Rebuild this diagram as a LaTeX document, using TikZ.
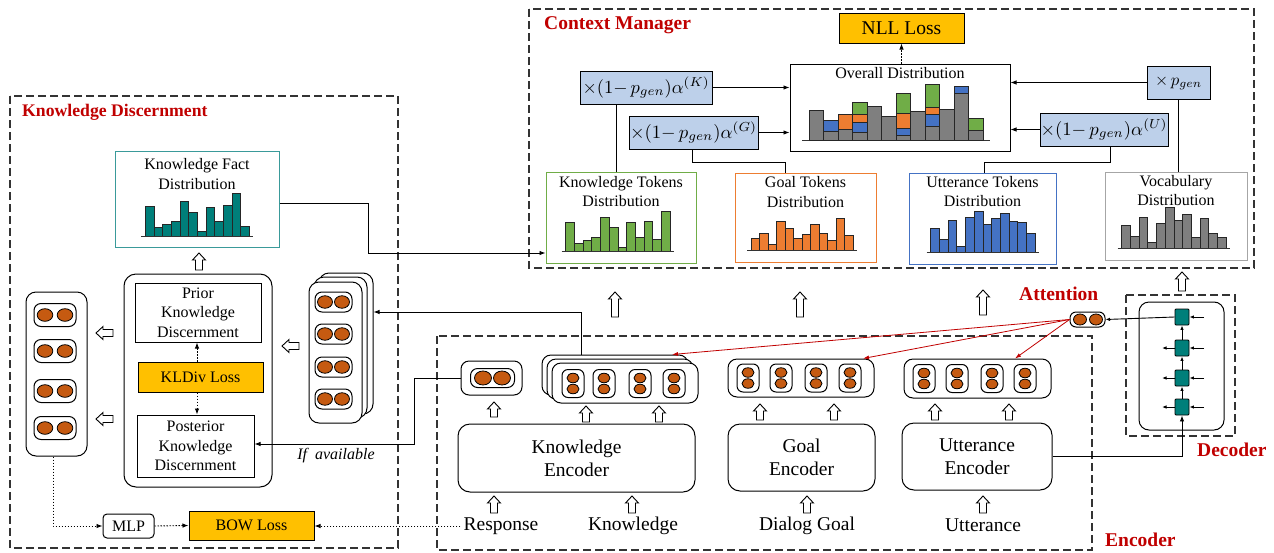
\documentclass[tikz,border=0pt]{standalone}
\usepackage{fontspec}
\usepackage{graphicx}
\setmainfont{Liberation Serif}
\usetikzlibrary{arrows.meta,shapes.geometric}
\definecolor{cmred}{HTML}{C00000}
\definecolor{gold}{HTML}{FFC000}
\definecolor{lblue}{HTML}{BDD0EA}
\definecolor{bgreen}{HTML}{70AD47}
\definecolor{borange}{HTML}{ED7D31}
\definecolor{bblue}{HTML}{4472C4}
\definecolor{bgray}{HTML}{7F7F7F}
\definecolor{bteal}{HTML}{007F7A}
\definecolor{kfdteal}{HTML}{3A9A9A}
\definecolor{ellcol}{HTML}{C55A11}
\definecolor{frmcol}{HTML}{333333}
\definecolor{vgray}{HTML}{A6A6A6}

\newcommand{\boxat}[7]{\node[#2, minimum width={#5-#3}, minimum height={#6-#4}, inner sep=0pt] (#1) at ({(#3+#5)/2},{(#4+#6)/2}) {#7};}
\newcommand{\hpill}[8]{%
  \node[pill, fill=white, minimum width=#4, minimum height=#5, inner sep=0pt] (#1) at (#2,#3) {};
  \node[ell, minimum width=#7, minimum height=#8] (#1a) at ({#2-#6},#3) {};
  \node[ell, minimum width=#7, minimum height=#8] (#1b) at ({#2+#6},#3) {};}
\newcommand{\vpill}[8]{%
  \node[pill, fill=white, rounded corners=6pt, minimum width=#4, minimum height=#5, inner sep=0pt] (#1) at (#2,#3) {};
  \node[ell, minimum width=#7, minimum height=#8] (#1a) at (#2,{#3-#6}) {};
  \node[ell, minimum width=#7, minimum height=#8] (#1b) at (#2,{#3+#6}) {};}
\newcommand{\harr}[4]{%
  \begin{scope}[shift={(#1,#2)}, rotate=#3]
    \draw[fill=white, line width=0.9pt, line join=miter] (0,-3.5) -- ({#4-7},-3.5) -- ({#4-7},-6.5) -- (#4,0) -- ({#4-7},6.5) -- ({#4-7},3.5) -- (0,3.5) -- cycle;
  \end{scope}}
\newcommand{\bars}[5]{%
  \foreach \h [count=\i from 0] in {#5}{\draw[fill=#4, line width=0.8pt, draw=black!85] ({#1+\i*#3},#2) rectangle ++(#3,-\h);}
  \draw[line width=1pt, draw=black!80] ({#1-4},#2) -- ({#1+12*#3+4},#2);}
\newcommand{\seg}[4]{\draw[fill=#4, line width=0.8pt, draw=black!85] ({809+#1*14.5},#2) rectangle ({809+(#1+1)*14.5},#3);}
\newcommand{\mixf}[1]{\resizebox{127pt}{!}{$\times(1{-}\,p_{gen})\alpha^{(#1)}$}}

\begin{document}
\begin{tikzpicture}[x=1pt, y=-1pt,
  frm/.style={draw=frmcol, dash pattern=on 8pt off 4pt, line width=1.1pt},
  plain/.style={draw, line width=1pt},
  rbox/.style={draw, line width=1pt, rounded corners=12pt},
  pill/.style={draw, line width=1pt, rounded corners=7pt},
  ell/.style={ellipse, draw, fill=ellcol, line width=0.8pt, inner sep=0pt},
  conn/.style={line width=0.9pt, -{Latex[length=6pt,width=4.5pt]}},
  sarr/.style={line width=0.9pt, -{Latex[length=4.5pt,width=3.5pt]}},
  rarr/.style={line width=0.8pt, draw=cmred, -{Latex[length=6pt,width=4pt]}},
  dconn/.style={conn, dash pattern=on 1.5pt off 1.5pt},
  lab/.style={font=\fontsize{16}{19.5}\selectfont, align=center, inner sep=0pt},
  big/.style={font=\fontsize{19.5}{23}\selectfont, align=center, inner sep=0pt},
  ttl/.style={font=\fontsize{19.5}{23}\selectfont\bfseries, text=cmred, inner sep=0pt},
  mth/.style={plain, fill=lblue}
]
\useasboundingbox (0,0) rectangle (1274,552);

% ---------------- frames
\draw[frm] (10,96) rectangle (398,548);
\draw[frm] (529,9) rectangle (1254,268);
\draw[frm] (437,336) rectangle (1092,550);
\draw[frm] (1126,295) rectangle (1235,436);

\node[ttl, font=\fontsize{17.7}{21}\selectfont\bfseries, anchor=west] (tkd) at (22,112) {Knowledge Discernment};
\node[ttl, anchor=west] (tcm) at (544,25) {Context Manager};
\node[ttl, anchor=west] (tenc) at (1105,540) {Encoder};
\node[ttl, anchor=west] (tdec) at (1197,450) {Decoder};
\node[ttl, anchor=west] (tatt) at (1019,294) {Attention};

% ---------------- Knowledge Discernment
\boxat{kfd}{draw=kfdteal, line width=1pt}{115}{151}{279}{247}{}
\node[lab] (kfdt) at (197,174) {Knowledge Fact\\Distribution};
\bars{145.3}{236}{8.67}{bteal}{29.7,9,11.3,14.3,34.3,24,4.3,28.7,14.3,30.3,42.3,10}
\harr{199}{270}{90}{17}

\boxat{dc}{rbox}{124}{274}{272}{487}{}
\boxat{prior}{plain, lab}{135}{283}{261}{342}{Prior\\Knowledge\\Discernment}
\boxat{kl}{plain, fill=gold, lab}{138}{362}{263}{392}{KLDiv Loss}
\boxat{post}{plain, lab}{137}{415}{254}{477}{Posterior\\Knowledge\\Discernment}
\draw[dconn] ([xshift=-3.5pt]kl.north) -- ([xshift=-3.5pt]kl.north |- prior.south);
\draw[dconn] ([xshift=-3.5pt]kl.south) -- ([xshift=-3.5pt]kl.south |- post.north);

\boxat{kd3}{draw, line width=1pt, rounded corners=10pt, fill=white}{319}{273}{373}{414}{}
\boxat{kd2}{draw, line width=1pt, rounded corners=10pt, fill=white}{314}{277}{367}{418}{}
\boxat{kd1}{draw, line width=1pt, rounded corners=10pt, fill=white}{309}{282}{362}{423}{}
\hpill{kdp1}{333.5}{302}{37}{20}{8.5}{15}{12.5}
\hpill{kdp2}{333.5}{334}{37}{20}{8.5}{15}{12.5}
\hpill{kdp3}{333.5}{367}{37}{20}{8.5}{15}{12.5}
\hpill{kdp4}{333.5}{399}{37}{20}{8.5}{15}{12.5}
\harr{299}{346}{180}{17}

\boxat{lc}{draw, line width=1pt, rounded corners=10pt}{26}{292}{87}{456}{}
\hpill{lcp1}{55}{315}{42}{23}{10}{15.6}{12.6}
\hpill{lcp2}{55}{351}{42}{23}{10}{15.6}{12.6}
\hpill{lcp3}{55}{391}{42}{23}{10}{15.6}{12.6}
\hpill{lcp4}{55}{428}{42}{23}{10}{15.6}{12.6}
\harr{113}{333}{180}{17}
\harr{113}{419}{180}{17}

\boxat{mlp}{draw, line width=1pt, rounded corners=4pt, lab}{103}{514}{154}{538}{MLP}
\boxat{bow}{plain, fill=gold, lab}{189}{511}{314}{540}{BOW Loss}
\draw[dconn] ([xshift=-3.5pt]lc.south) |- (mlp.west);
\draw[dconn] (mlp.east) -- (bow.west);
\node[lab, font=\fontsize{16}{19}\selectfont\itshape] (ifav) at (336,456) {If\ \ available};

% ---------------- Context Manager
\boxat{nll}{plain, fill=gold, big}{839}{13}{964}{43}{NLL Loss}
\boxat{ov}{plain}{790}{64}{1010}{151}{}
\node[lab] (ovt) at (900,73) {Overall Distribution};
\draw[line width=1pt, draw=black!80] (802,140) -- (990,140);
\seg{0}{140}{110.3}{bgray}
\seg{1}{140}{131.7}{bgray}\seg{1}{131.7}{120}{bblue}
\seg{2}{140}{129.3}{bgray}\seg{2}{129.3}{114.7}{borange}
\seg{3}{140}{132.3}{bgray}\seg{3}{132.3}{122.3}{bblue}\seg{3}{122.3}{114}{borange}\seg{3}{114}{102}{bgreen}
\seg{4}{140}{106}{bgray}
\seg{5}{140}{116}{bgray}
\seg{6}{140}{135.3}{bgray}\seg{6}{135.3}{128}{bblue}\seg{6}{128}{113.7}{borange}\seg{6}{113.7}{93}{bgreen}
\seg{7}{140}{111.7}{bgray}
\seg{8}{140}{126}{bgray}\seg{8}{126}{114.7}{bblue}\seg{8}{114.7}{107.3}{borange}\seg{8}{107.3}{84.7}{bgreen}
\seg{9}{140}{109.3}{bgray}
\seg{10}{140}{93.3}{bgray}\seg{10}{93.3}{86.7}{bblue}
\seg{11}{140}{130}{bgray}\seg{11}{130}{118.3}{bgreen}
\draw[dconn] (nll.south |- ov.north) -- (nll.south);

\boxat{ak}{mth}{580}{71}{712}{104}{\mixf{K}}
\boxat{ag}{mth}{629}{116}{758}{149}{\mixf{G}}
\boxat{pg}{mth}{1147}{66}{1210}{99}{\resizebox{47pt}{!}{$\times\,p_{gen}$}}
\boxat{au}{mth}{1040}{113}{1168}{146}{\mixf{U}}
\draw[conn] (ak.east) -- (ak.east -| ov.west);
\draw[conn] (ag.east) -- (ag.east -| ov.west);
\draw[conn] (pg.west) -- (pg.west -| ov.east);
\draw[conn] (au.west) -- (au.west -| ov.east);

\boxat{ktd}{draw=bgreen, line width=1pt}{546}{172}{696}{263}{}
\node[lab] (ktdt) at (621,191.5) {Knowledge Tokens\\Distribution};
\bars{565.7}{251}{8.7}{bgreen}{29,8,10.7,13.3,33.3,23.3,4,28.3,14,30,11.3,40}
\boxat{gtd}{draw=borange, line width=1pt}{735}{173}{876}{262}{}
\node[lab] (gtdt) at (805.5,192) {Goal Tokens\\Distribution};
\bars{751.3}{250}{8.5}{borange}{11.3,16.7,6,28.7,21.3,11.3,15.7,25.7,16.7,9.3,31.7,14.7}
\boxat{utd}{draw=bblue, line width=1pt}{909}{173}{1056}{264}{}
\node[lab] (utdt) at (982.5,191.5) {Utterance Tokens\\Distribution};
\bars{930.7}{252}{8.7}{bblue}{23.3,12.3,31.3,5.7,35,40.3,28,34,39,30.7,29.3,19}
\boxat{vd}{draw=vgray, line width=1pt}{1105}{172}{1247}{260}{}
\node[lab] (vdt) at (1176,190.5) {Vocabulary\\Distribution};
\bars{1121.7}{248}{8.7}{bgray}{22.7,11.7,30.7,5.3,24.7,40.7,27.7,33.3,10.7,29.7,15,10.7}

\draw[line width=0.9pt] ([xshift=-5pt]ktd.north) -- ([xshift=-5pt]ktd.north |- ak.south);
\draw[line width=0.9pt] ([xshift=-20.5pt]gtd.north) -- ++(0,-10) -| ([xshift=-1.5pt]ag.south);
\draw[line width=0.9pt] ([xshift=1.5pt]utd.north) -- ++(0,-10) -| ([xshift=6pt]au.south);
\draw[line width=0.9pt] ([xshift=2pt]vd.north) -- ([xshift=2pt]vd.north |- pg.south);

\draw[conn] ([yshift=-4pt]kfd.east) -- (368,203) -- (368,253) -- ([yshift=-35.5pt]ktd.west);

% big up arrows
\harr{615}{317}{90}{25}
\harr{800}{317}{90}{25}
\harr{983}{315}{90}{25}
\harr{1182}{291}{90}{19}

% ---------------- Encoder
\boxat{resp}{draw, line width=1pt, rounded corners=8pt}{461}{361}{522}{395}{}
\hpill{rp}{492.5}{378}{44}{19}{9.5}{17}{14}
\harr{494}{417}{90}{15}

\boxat{ks3}{draw, line width=1pt, rounded corners=9pt, fill=white}{542}{355}{688}{395}{}
\boxat{ks2}{draw, line width=1pt, rounded corners=9pt, fill=white}{547}{359}{693}{399}{}
\boxat{ks1}{draw, line width=1pt, rounded corners=9pt, fill=white}{552}{363}{698}{403}{}
\vpill{kp1}{573}{383.5}{22}{28}{5.5}{12}{9.5}
\vpill{kp2}{604}{383.5}{22}{28}{5.5}{12}{9.5}
\vpill{kp3}{640}{383.5}{22}{28}{5.5}{12}{9.5}
\vpill{kp4}{674}{383.5}{22}{28}{5.5}{12}{9.5}
\harr{586}{422}{90}{16}
\harr{659}{422}{90}{16}

\boxat{ke}{rbox, big}{458}{424}{695}{492}{Knowledge\\Encoder}
\harr{494}{513}{90}{17}
\harr{632}{513}{90}{17}
\node[big] (rtxt) at (501,526) {Response};
\node[big] (ktxt) at (633,526) {Knowledge};

\boxat{gp}{draw, line width=1pt, rounded corners=9pt}{728}{359}{874}{397}{}
\vpill{gp1}{748}{378}{22}{28}{5.5}{12}{9.5}
\vpill{gp2}{781}{378}{22}{28}{5.5}{12}{9.5}
\vpill{gp3}{816}{378}{22}{28}{5.5}{12}{9.5}
\vpill{gp4}{850}{378}{22}{28}{5.5}{12}{9.5}
\harr{760}{420}{90}{16}
\harr{834}{420}{90}{16}
\boxat{ge}{rbox, big}{728}{424}{875}{491}{Goal\\Encoder}
\harr{807}{513}{90}{17}
\node[big] (gtxt) at (807,526) {Dialog Goal};

\boxat{up}{draw, line width=1pt, rounded corners=9pt}{904}{359}{1051}{398}{}
\vpill{up1}{924}{378.5}{22}{28}{5.5}{12}{9.5}
\vpill{up2}{957}{378.5}{22}{28}{5.5}{12}{9.5}
\vpill{up3}{992}{378.5}{22}{28}{5.5}{12}{9.5}
\vpill{up4}{1025}{378.5}{22}{28}{5.5}{12}{9.5}
\harr{935}{420}{90}{16}
\harr{1009}{420}{90}{16}
\boxat{ue}{rbox, big}{902}{423}{1052}{490}{Utterance\\Encoder}
\harr{983}{513}{90}{17}
\node[big] (utxt) at (983,525) {Utterance};

% encoder side connectors into Knowledge Discernment
\draw[conn] ([xshift=-34pt]ks3.north) |- ([yshift=31.5pt]kd3.east);
\draw[conn] (resp.west) -- ++(-46,0) |- ([yshift=2pt]post.east);
\draw[dconn] ([xshift=-3pt]rtxt.west) -- (rtxt.west -| bow.east);

% ---------------- Decoder
\boxat{dbox}{draw, line width=1pt, rounded corners=10pt}{1139}{302}{1224}{430}{}
\node[draw, fill=bteal, line width=0.9pt, rounded corners=1pt, minimum width=14, minimum height=16, inner sep=0pt] (c1) at (1182,317) {};
\node[draw, fill=bteal, line width=0.9pt, rounded corners=1pt, minimum width=14, minimum height=16, inner sep=0pt] (c2) at (1182,348) {};
\node[draw, fill=bteal, line width=0.9pt, rounded corners=1pt, minimum width=14, minimum height=16, inner sep=0pt] (c3) at (1182,378) {};
\node[draw, fill=bteal, line width=0.9pt, rounded corners=1pt, minimum width=14, minimum height=16, inner sep=0pt] (c4) at (1182,407) {};
\draw[sarr] (c2.north) -- (c1.south);
\draw[sarr] (c3.north) -- (c2.south);
\draw[sarr] (c4.north) -- (c3.south);
\foreach \c/\y in {c1/317,c2/348,c3/378,c4/407}{
  \coordinate (r\c) at (1204,\y);
  \draw[sarr] (r\c) -- (\c.east);
}
\foreach \c/\y in {c2/348,c3/378,c4/407}{
  \coordinate (l\c) at (1162,\y);
  \draw[sarr] (\c.west) -- (l\c);
}
\draw[conn] (ue.east) -| (c4.south);

% attention
\boxat{att}{draw, line width=1pt, rounded corners=6pt, fill=white}{1070}{312}{1105}{327}{}
\node[ell, minimum width=13, minimum height=11] (atta) at (1080,319.5) {};
\node[ell, minimum width=13, minimum height=11] (attb) at (1096,319.5) {};
\draw[sarr] (c1.west) -- (att.east);
\draw[rarr] (att.west) -- ([xshift=57pt]ks3.north);
\draw[rarr] (att.west) -- ([xshift=62pt]gp.north);
\draw[rarr] (att.west) -- ([xshift=37.5pt]up.north);
\end{tikzpicture}
\end{document}
